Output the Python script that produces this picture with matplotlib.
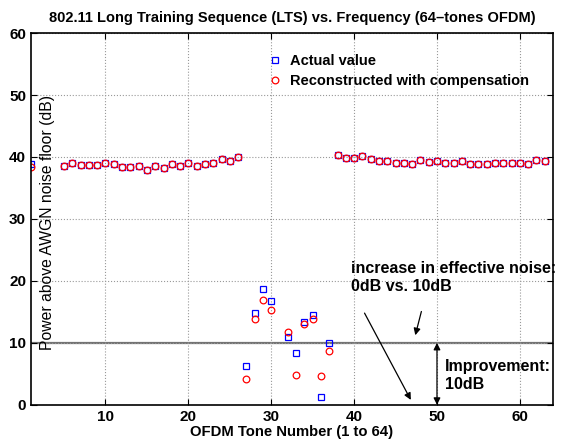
import numpy as np
import matplotlib.pyplot as plt

plt.rcParams['font.family'] = ['Liberation Sans', 'DejaVu Sans']

# tone numbers and levels
tones_a = [1] + list(range(5, 27))
level_a = [38.8, 38.5, 39.0, 38.7, 38.7, 38.7, 39.0, 38.9, 38.4, 38.4, 38.6, 37.9,
           38.6, 38.3, 38.9, 38.5, 39.1, 38.5, 38.8, 39.1, 39.7, 39.4, 40.0]
level_a_rec = [38.4] + level_a[1:]

tones_b = [27, 28, 29, 30, 32, 33, 34, 35, 36, 37]
actual_b = [6.2, 14.9, 18.7, 16.8, 10.9, 8.4, 13.3, 14.5, 1.2, 9.9]
recon_b = [4.2, 13.8, 16.9, 15.3, 11.7, 4.8, 13.1, 13.9, 4.7, 8.7]

tones_c = list(range(38, 64))
level_c = [40.3, 39.9, 39.8, 40.2, 39.7, 39.4, 39.4, 39.1, 39.1, 38.9, 39.5, 39.2, 39.4,
           39.1, 39.1, 39.4, 38.8, 38.8, 38.8, 39.1, 39.1, 39.1, 39.0, 38.9, 39.5, 39.4]

tones = tones_a + tones_b + tones_c
actual = level_a + actual_b + level_c
recon = level_a_rec + recon_b + level_c

noise_increase = 10

fig = plt.figure(figsize=(5.62, 4.41), dpi=100)
ax = fig.add_axes([0.055, 0.082, 0.929, 0.843])

ax.axhline(noise_increase, color='0.45', lw=1.6, zorder=1)
ax.plot(tones, actual, 's', color='b', mfc='none', ms=4.2, mew=0.9, label='Actual value')
ax.plot(tones, recon, 'o', color='r', mfc='none', ms=4.8, mew=0.9,
        label='Reconstructed with compensation')

ax.set_xlim(1, 64)
ax.set_ylim(0, 60)
ax.set_xticks(range(10, 61, 10))
ax.set_yticks(range(0, 61, 10))
ax.grid(True, ls=':', color='0.6', lw=0.8)
ax.tick_params(direction='in', top=True, right=True, labelsize=11, length=4)
for lab in ax.get_xticklabels() + ax.get_yticklabels():
    lab.set_fontweight('bold')
for s in ax.spines.values():
    s.set_linewidth(1.2)

ax.set_title('802.11 Long Training Sequence (LTS) vs. Frequency (64\u2013tones OFDM)',
             fontsize=10.5, fontweight='bold', pad=8)
ax.set_xlabel('OFDM Tone Number (1 to 64)', fontsize=10.7, fontweight='bold', labelpad=1)
ax.text(0.031, 0.49, 'Power above AWGN noise floor (dB)', transform=ax.transAxes,
        rotation=90, ha='center', va='center', fontsize=11.3)

ax.legend(loc='upper center', bbox_to_anchor=(0.70, 0.98), frameon=False,
          prop={'weight': 'bold', 'size': 10.5}, handletextpad=0.3, labelspacing=0.45,
          handlelength=1.5)

ax.text(39.6, 20.6, 'increase in effective noise:\n0dB vs. 10dB', fontsize=11.5,
        fontweight='bold', va='center', ha='left', linespacing=1.25)
ax.annotate('', xy=(47.0, 0.4), xytext=(41.1, 15.2),
            arrowprops=dict(arrowstyle='-|>', color='k', lw=0.9, mutation_scale=10))
ax.annotate('', xy=(47.3, 10.8), xytext=(48.2, 15.5),
            arrowprops=dict(arrowstyle='-|>', color='k', lw=0.9, mutation_scale=10))
ax.annotate('', xy=(50, 0), xytext=(50, noise_increase),
            arrowprops=dict(arrowstyle='<|-|>', color='k', lw=0.9, mutation_scale=10,
                            shrinkA=0, shrinkB=0))
ax.text(51, 4.7, 'Improvement:\n10dB', fontsize=11.5, fontweight='bold',
        va='center', ha='left', linespacing=1.25)

fig.savefig('out.png', dpi=100)
